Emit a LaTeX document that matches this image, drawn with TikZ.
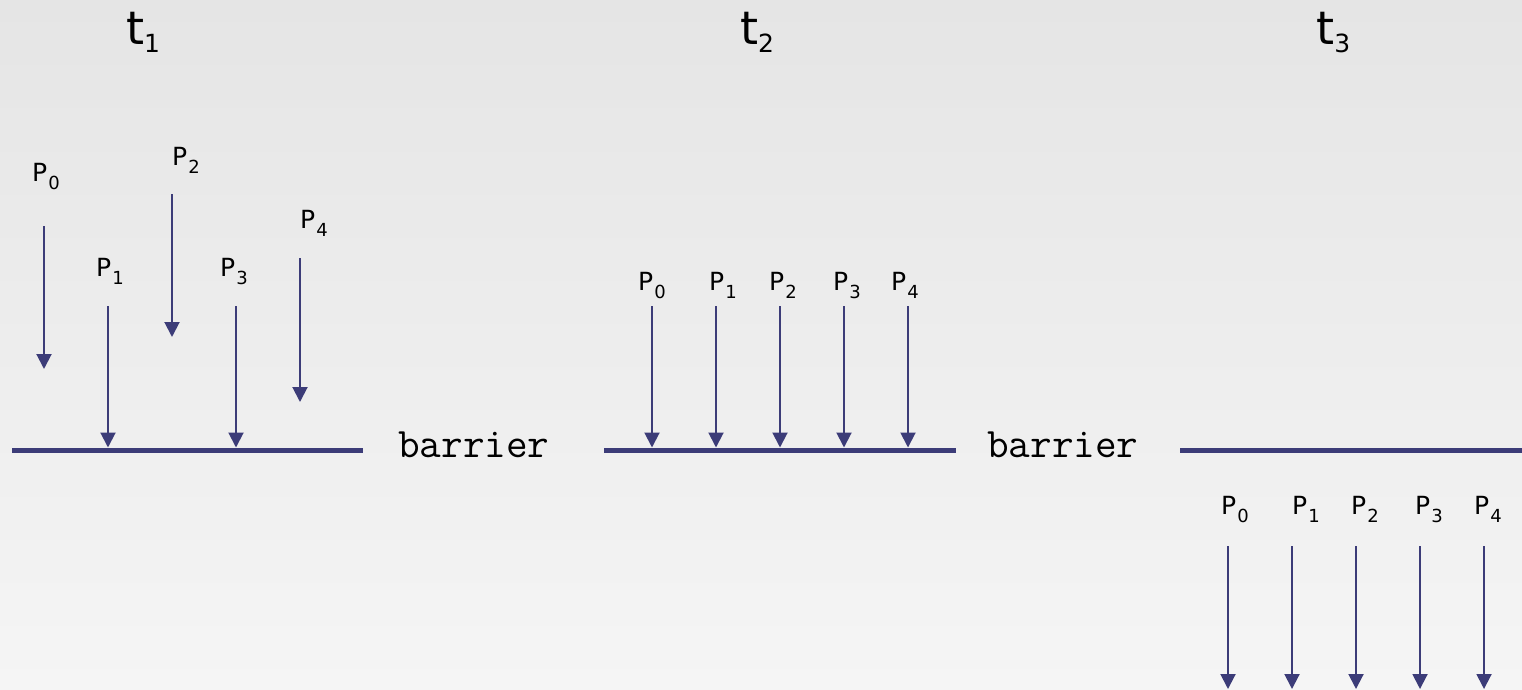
\documentclass[tikz,border=0pt]{standalone}
\usepackage{fontspec}
\setmainfont{DejaVu Sans}
\usetikzlibrary{arrows.meta}

\definecolor{procblue}{RGB}{60,60,120}
\definecolor{bgtop}{RGB}{229,229,229}
\definecolor{bgbot}{RGB}{245,245,245}

% process label P_i and time label t_i
\newcommand{\proclab}[1]{\fontsize{25}{25}\selectfont P\kern1pt\raisebox{-8.5pt}{\fontsize{18}{18}\selectfont #1}}
\newcommand{\timelab}[1]{\fontsize{46}{46}\selectfont t\raisebox{-8pt}{\fontsize{25}{25}\selectfont #1}}

\tikzset{
  lab/.style={inner sep=0pt, anchor=base west, text=black},
  proc/.style={draw=procblue, line width=2pt, -{Triangle[width=15pt,length=15pt]}},
  barrierline/.style={draw=procblue, line width=5pt},
  bartext/.style={inner sep=0pt, anchor=base west, font=\ttfamily\fontsize{42}{42}\selectfont},
}

\begin{document}
\begin{tikzpicture}[x=1pt,y=-1pt]
\useasboundingbox (0,0) rectangle (1522,690);
\shade[top color=bgtop, bottom color=bgbot] (0,0) rectangle (1522,690);

% time headings
\node[lab] (t1) at (126,45) {\timelab{1}};
\node[lab] (t2) at (740,45) {\timelab{2}};
\node[lab] (t3) at (1316,45) {\timelab{3}};

% barriers
\coordinate (bar1a) at (12,450);   \coordinate (bar1b) at (363,450);
\coordinate (bar2a) at (604,450);  \coordinate (bar2b) at (956,450);
\coordinate (bar3a) at (1180,450); \coordinate (bar3b) at (1522,450);
\draw[barrierline] (bar1a) -- (bar1b);
\draw[barrierline] (bar2a) -- (bar2b);
\draw[barrierline] (bar3a) -- (bar3b);
\node[bartext] (bartxt1) at (398,457) {barrier};
\node[bartext] (bartxt2) at (987,457) {barrier};

% phase 1: processes arrive at different times
\node[lab] (a0l) at (32,181) {\proclab{0}};
\node[lab] (a1l) at (96,276) {\proclab{1}};
\node[lab] (a2l) at (172,165) {\proclab{2}};
\node[lab] (a3l) at (220,276) {\proclab{3}};
\node[lab] (a4l) at (300,228) {\proclab{4}};
\coordinate (a0s) at (44,226); \coordinate (a0e) at (44,369);
\coordinate (a1s) at (108,306); \coordinate (a1e) at (108,447.5);
\coordinate (a2s) at (172,194); \coordinate (a2e) at (172,337);
\coordinate (a3s) at (236,306); \coordinate (a3e) at (236,447.5);
\coordinate (a4s) at (300,258); \coordinate (a4e) at (300,402);
\foreach \i in {0,...,4} \draw[proc] (a\i s) -- (a\i e);

% phase 2: all processes wait at the barrier
\node[lab] (b0l) at (638,290) {\proclab{0}};
\node[lab] (b1l) at (709,290) {\proclab{1}};
\node[lab] (b2l) at (769,290) {\proclab{2}};
\node[lab] (b3l) at (833,290) {\proclab{3}};
\node[lab] (b4l) at (891,290) {\proclab{4}};
\foreach \i/\x in {0/652,1/716,2/780,3/844,4/908} {
  \coordinate (b\i s) at (\x,306); \coordinate (b\i e) at (\x,447.5);
  \draw[proc] (b\i s) -- (b\i e);
}

% phase 3: processes continue past the barrier
\node[lab] (c0l) at (1221,514) {\proclab{0}};
\node[lab] (c1l) at (1292,514) {\proclab{1}};
\node[lab] (c2l) at (1351,514) {\proclab{2}};
\node[lab] (c3l) at (1415,514) {\proclab{3}};
\node[lab] (c4l) at (1474,514) {\proclab{4}};
\foreach \i/\x in {0/1228,1/1292,2/1356,3/1420,4/1484} {
  \coordinate (c\i s) at (\x,546); \coordinate (c\i e) at (\x,689);
  \draw[proc] (c\i s) -- (c\i e);
}
\end{tikzpicture}
\end{document}
